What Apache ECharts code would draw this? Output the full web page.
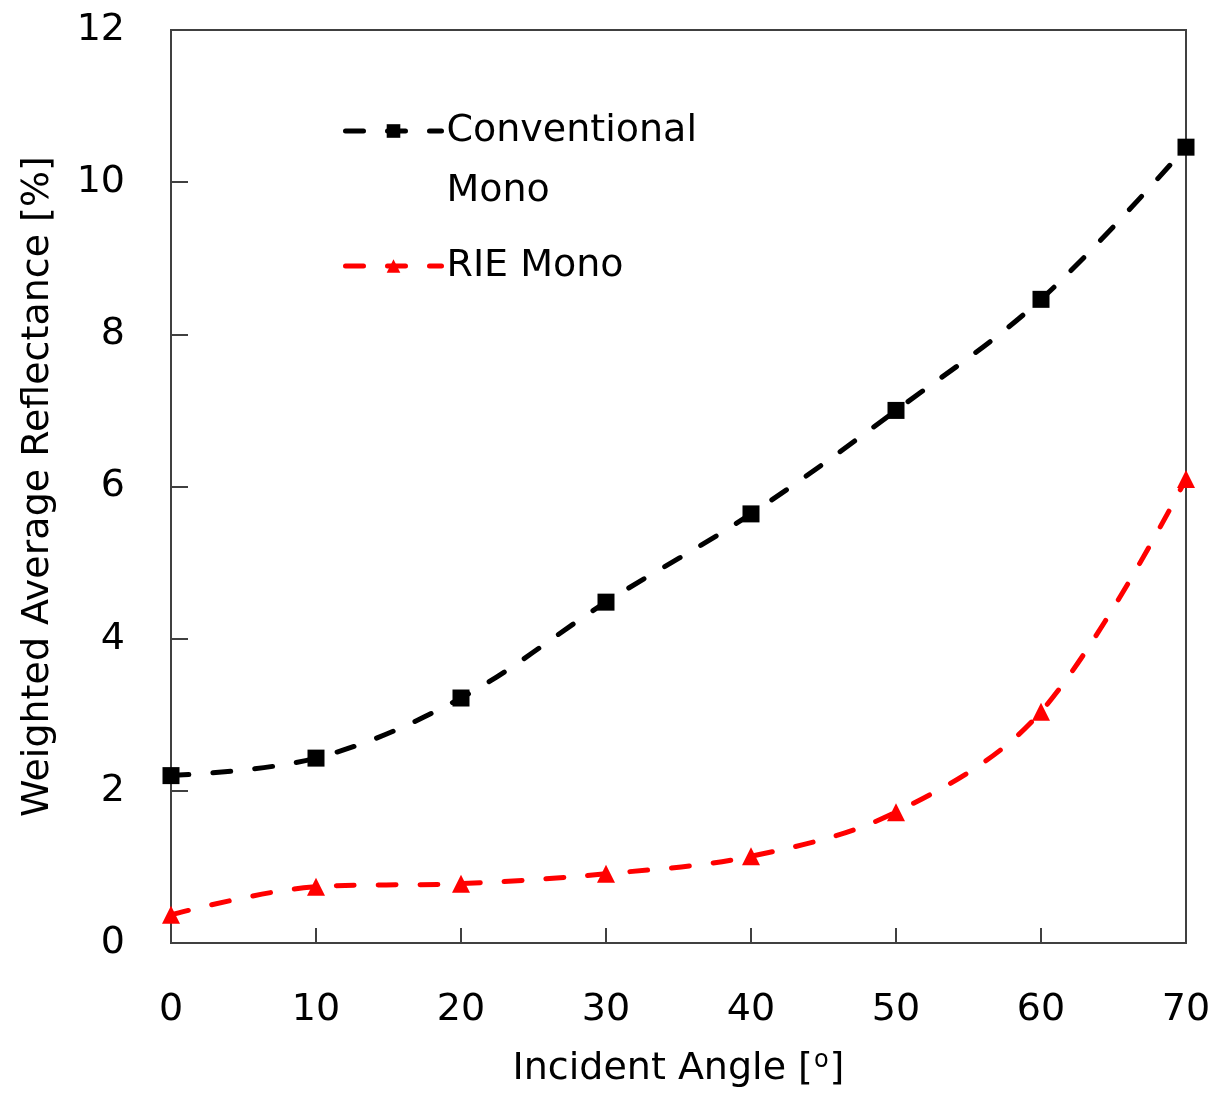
<!DOCTYPE html>
<html>
<head>
<meta charset="utf-8">
<script src="https://cdn.jsdelivr.net/npm/echarts@6/dist/echarts.min.js"></script>
<style>html,body{margin:0;padding:0;background:#fff;}#c{width:1217px;height:1095px;}</style>
</head>
<body>
<div id="c"></div>
<script>
const angles = [0, 10, 20, 30, 40, 50, 60, 70];
const conventional = [2.2, 2.43, 3.22, 4.48, 5.64, 7.0, 8.46, 10.46];
const rie = [0.37, 0.74, 0.78, 0.91, 1.14, 1.72, 3.04, 6.1];
const seriesNames = ['Conventional\nMono', 'RIE Mono'];
const xTitle = 'Incident Angle [{sup|o}]';
const yTitle = 'Weighted Average Reflectance [%]';

const FONT = 'DejaVu Sans';
const FS = 38;
const axisCol = '#404040';
const dash = [18, 24];
const chart = echarts.init(document.getElementById('c'));
chart.setOption({
  animation: false,
  backgroundColor: '#fff',
  textStyle: { fontFamily: FONT },
  grid: { left: 171, right: 31, top: 30, bottom: 152, show: true, borderColor: axisCol, borderWidth: 2 },
  legend: {
    left: 343, top: 41, orient: 'vertical', padding: 0,
    itemWidth: 96, itemHeight: 17, itemGap: 15,
    lineStyle: { width: 5 },
    data: seriesNames,
    formatter: function (name) { return name === seriesNames[0] ? ' \n' + name : name; },
    textStyle: { fontFamily: FONT, fontSize: FS, color: '#000', lineHeight: 60 }
  },
  xAxis: {
    type: 'value', min: 0, max: 70, interval: 10,
    name: xTitle, nameLocation: 'middle', nameGap: 106,
    nameTextStyle: {
      fontFamily: FONT, fontSize: FS, color: '#000',
      rich: { sup: { fontFamily: FONT, fontSize: 24, color: '#000', padding: [0, 1, 16, 1] } }
    },
    axisLine: { show: true, lineStyle: { color: axisCol, width: 2 } },
    axisTick: { show: true, inside: true, length: 15, lineStyle: { color: axisCol, width: 2 } },
    axisLabel: { fontFamily: FONT, fontSize: FS, color: '#000', margin: 48 },
    splitLine: { show: false }
  },
  yAxis: {
    type: 'value', min: 0, max: 12, interval: 2,
    name: yTitle, nameLocation: 'middle', nameGap: 114,
    nameTextStyle: { fontFamily: FONT, fontSize: FS, color: '#000' },
    axisLine: { show: true, lineStyle: { color: axisCol, width: 2 } },
    axisTick: { show: true, inside: true, length: 17, lineStyle: { color: axisCol, width: 2 } },
    axisLabel: { fontFamily: FONT, fontSize: FS, color: '#000', margin: 46, padding: [4, 0, 0, 0] },
    splitLine: { show: false }
  },
  series: [
    {
      name: seriesNames[0], type: 'line', smooth: 0.35,
      data: angles.map((a, i) => [a, conventional[i]]),
      symbol: 'rect', symbolSize: 17,
      itemStyle: { color: '#000' },
      lineStyle: { color: '#000', width: 5, type: dash, cap: 'round' }
    },
    {
      name: seriesNames[1], type: 'line', smooth: 0.35,
      data: angles.map((a, i) => [a, rie[i]]),
      symbol: 'triangle', symbolSize: 18,
      itemStyle: { color: '#ff0000' },
      lineStyle: { color: '#ff0000', width: 5, type: dash, cap: 'round' }
    }
  ]
});
</script>
</body>
</html>
